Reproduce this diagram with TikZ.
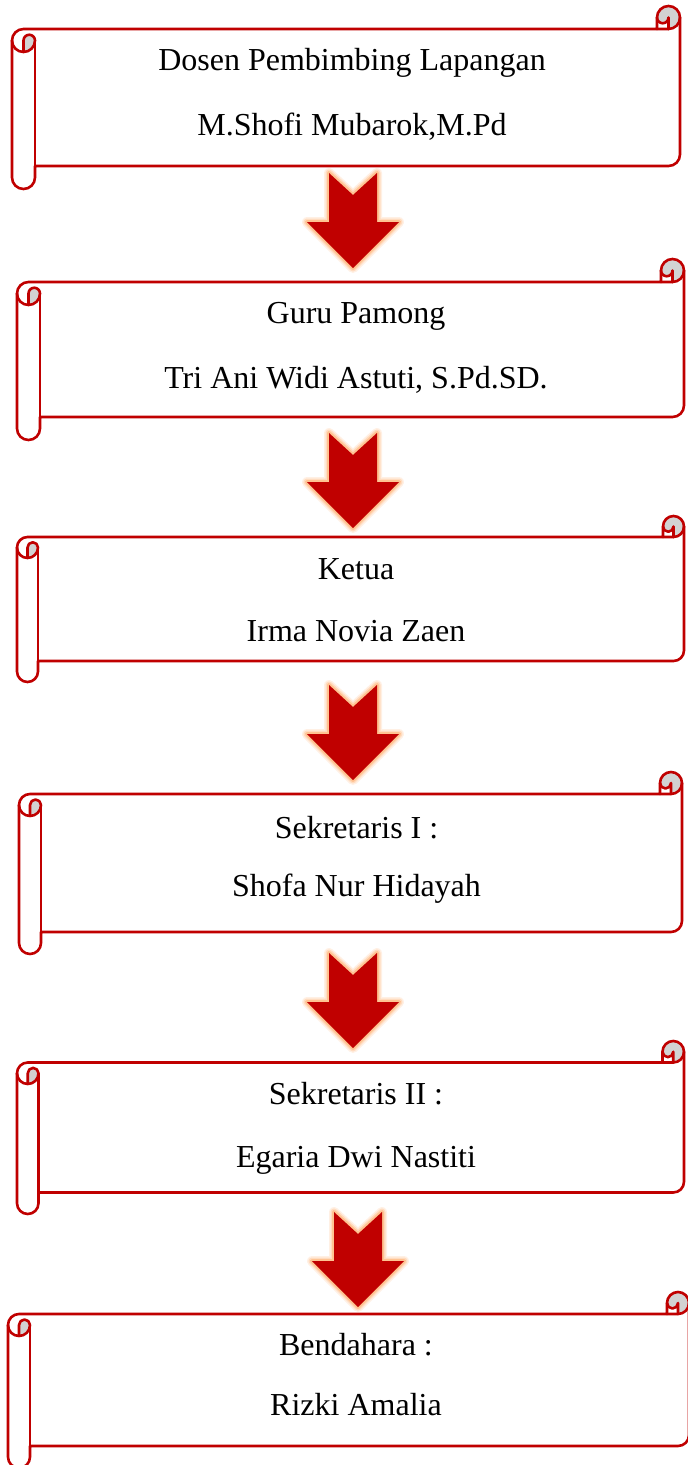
\documentclass[tikz,border=0pt]{standalone}
\usepackage{fontspec}
\setmainfont{Liberation Serif}
\definecolor{scr}{RGB}{192,0,0}
\definecolor{curlgray}{RGB}{210,210,210}
\definecolor{glowc}{RGB}{255,175,110}
\tikzset{
  scrl/.style={draw=scr, line width=2.6pt, line join=round, line cap=round},
  curl/.style={fill=curlgray},
  lbl/.style={font=\fontsize{32}{38}\selectfont, anchor=base, inner sep=0pt},
  arrowbody/.style={fill=scr},
}
% l, t, r, b, ch
\newcommand\scrollbox[5]{%
  \pgfmathsetmacro\sL{#1}\pgfmathsetmacro\sT{#2}%
  \pgfmathsetmacro\sR{#3}\pgfmathsetmacro\sB{#4}%
  \pgfmathsetmacro\sC{#5}\pgfmathsetmacro\sCh{#5/2}\pgfmathsetmacro\sCq{#5/4}%
  \pgfmathsetmacro\sXth{#3-#5}\pgfmathsetmacro\sXf{#3-#5/2}%
  \pgfmathsetmacro\sYth{#2+1.5*#5}\pgfmathsetmacro\sYf{#2+2*#5}%
  \pgfmathsetmacro\sYs{#4-#5}\pgfmathsetmacro\sYse{#4-#5/2}%
  \pgfmathsetmacro\sYfi{#4-1.5*#5}%
  \pgfmathsetmacro\sYC{#2+#5}\pgfmathsetmacro\sYH{#2+#5/2}%
  \pgfmathsetmacro\sXH{#1+#5/2}\pgfmathsetmacro\sXC{#1+#5}%
  \fill[white] (\sL,\sYth) arc[start angle=180, delta angle=90, radius=\sCh] -- (\sXth,\sYC) -- (\sXth,\sYH)
     arc[start angle=180, delta angle=180, radius=\sCh] -- (\sR,\sYfi)
     arc[start angle=0, delta angle=90, radius=\sCh] -- (\sXC,\sYs) -- (\sXC,\sYse)
     arc[start angle=0, delta angle=180, radius=\sCh] -- cycle;
  \fill[curl] (\sXH,\sYf) arc[start angle=90, delta angle=-90, radius=\sCh]
     arc[start angle=0, delta angle=-180, radius=\sCq] -- cycle;
  \fill[curl] (\sXf,\sYC) arc[start angle=90, delta angle=-270, radius=\sCh]
     arc[start angle=180, delta angle=-180, radius=\sCq] -- cycle;
  \draw[scrl] (\sL,\sYth) arc[start angle=180, delta angle=90, radius=\sCh] -- (\sXth,\sYC) -- (\sXth,\sYH)
     arc[start angle=180, delta angle=180, radius=\sCh] -- (\sR,\sYfi)
     arc[start angle=0, delta angle=90, radius=\sCh] -- (\sXC,\sYs) -- (\sXC,\sYse)
     arc[start angle=0, delta angle=180, radius=\sCh] -- cycle;
  \draw[scrl] (\sXth,\sYC) -- (\sXf,\sYC) arc[start angle=90, delta angle=-90, radius=\sCh];
  \draw[scrl] (\sXf,\sYC) -- (\sXf,\sYH) arc[start angle=0, delta angle=180, radius=\sCq];
  \draw[scrl] (\sXH,\sYf) -- (\sXH,\sYth) arc[start angle=180, delta angle=180, radius=\sCq]
     arc[start angle=0, delta angle=180, radius=\sCh];
  \draw[scrl] (\sXC,\sYth) -- (\sXC,\sYs);
}
% cx, top
\newcommand\redarrow[2]{%
  \pgfmathsetmacro\ax{#1}\pgfmathsetmacro\ay{#2}%
  \foreach \w/\o in {10/0.18, 7/0.3, 4/0.55}{%
    \draw[glowc, line width=\w pt, opacity=\o, line join=round]
      (\ax-24,\ay) -- (\ax,\ay+22) -- (\ax+24,\ay) -- (\ax+24,\ay+49) -- (\ax+46,\ay+49)
      -- (\ax,\ay+95) -- (\ax-46,\ay+49) -- (\ax-24,\ay+49) -- cycle;
  }
  \fill[arrowbody]
      (\ax-24,\ay) -- (\ax,\ay+22) -- (\ax+24,\ay) -- (\ax+24,\ay+49) -- (\ax+46,\ay+49)
      -- (\ax,\ay+95) -- (\ax-46,\ay+49) -- (\ax-24,\ay+49) -- cycle;
}
\begin{document}
\begin{tikzpicture}[x=1pt, y=-1pt]
  \useasboundingbox (0,0) rectangle (688,1465);
  \fill[white] (0,0) rectangle (688,1465);

  \scrollbox{12}{6}{680}{189}{23}
  \scrollbox{17}{259}{684}{440}{23}
  \scrollbox{17}{516}{684}{682}{21}
  \scrollbox{19}{772}{682}{954}{22}
  \scrollbox{17}{1041}{684}{1214}{21.5}
  \scrollbox{8}{1292}{689}{1468}{22}

  \redarrow{353}{173}
  \redarrow{353}{433}
  \redarrow{353}{685}
  \redarrow{353}{953}
  \redarrow{358}{1212}

  \node[lbl] (b1a) at (352,70.5) {Dosen Pembimbing Lapangan};
  \node[lbl] (b1b) at (352,135.5) {M.Shofi Mubarok,M.Pd};
  \node[lbl] (b2a) at (356,323.5) {Guru Pamong};
  \node[lbl] (b2b) at (356,388.5) {Tri Ani Widi Astuti, S.Pd.SD.};
  \node[lbl] (b3a) at (356,579.5) {Ketua};
  \node[lbl] (b3b) at (356,641.5) {Irma Novia Zaen};
  \node[lbl] (b4a) at (356.5,838.5) {Sekretaris I :};
  \node[lbl] (b4b) at (356.5,896.5) {Shofa Nur Hidayah};
  \node[lbl] (b5a) at (356,1104.5) {Sekretaris II :};
  \node[lbl] (b5b) at (356,1167.5) {Egaria Dwi Nastiti};
  \node[lbl] (b6a) at (356,1355.5) {Bendahara :};
  \node[lbl] (b6b) at (356,1415.5) {Rizki Amalia};
\end{tikzpicture}
\end{document}
